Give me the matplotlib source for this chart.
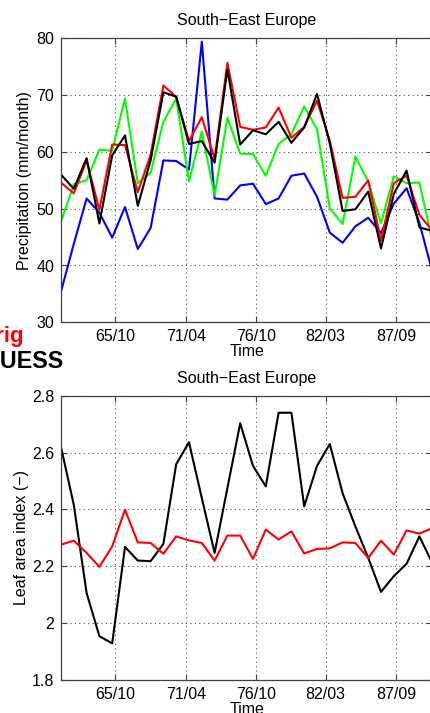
import numpy as np
import matplotlib
matplotlib.use("Agg")
import matplotlib.pyplot as plt

plt.rcParams['font.family'] = ['Liberation Sans', 'DejaVu Sans']

years = np.arange(1961, 1991)
tick_labels = ["65/10", "71/04", "76/10", "82/03", "87/09"]
tick_pos = [1965.75, 1971.25, 1976.75, 1982 + 2/12, 1987 + 8/12]

precip_blue = [35.4, 43.8, 51.8, 49.3, 44.9, 50.3, 42.9, 46.6, 58.5, 58.4,
               56.9, 79.4, 51.8, 51.6, 54.1, 54.4, 50.8, 51.8, 55.8, 56.2,
               52.1, 45.8, 44.0, 46.9, 48.4, 45.7, 50.9, 53.6, 47.5, 39.0]
precip_green = [47.7, 54.3, 55.0, 60.4, 60.2, 69.4, 54.5, 56.3, 65.3, 69.4,
                54.8, 63.6, 52.3, 66.0, 59.7, 59.6, 55.8, 61.4, 63.1, 68.0,
                64.0, 50.1, 47.3, 59.2, 54.8, 47.4, 55.7, 54.5, 54.6, 44.5]
precip_red = [54.6, 52.7, 58.5, 49.8, 61.3, 61.2, 52.9, 59.5, 71.7, 69.7,
              61.9, 66.1, 58.8, 75.7, 64.4, 63.9, 64.3, 67.8, 62.5, 64.4,
              69.0, 62.0, 51.9, 52.1, 55.0, 44.4, 54.5, 55.8, 48.9, 46.2]
precip_black = [56.0, 53.5, 58.9, 47.4, 59.4, 62.9, 50.5, 58.5, 70.5, 69.7,
                61.4, 61.9, 58.1, 74.5, 61.3, 63.8, 63.1, 65.3, 61.6, 64.3,
                70.2, 61.5, 49.6, 49.9, 53.0, 43.0, 52.6, 56.7, 46.7, 46.1]

lai_black = [2.619, 2.416, 2.106, 1.954, 1.929, 2.268, 2.220, 2.218, 2.279, 2.559,
             2.636, 2.440, 2.247, 2.475, 2.703, 2.553, 2.481, 2.740, 2.740, 2.411,
             2.553, 2.630, 2.457, 2.340, 2.230, 2.110, 2.165, 2.209, 2.305, 2.212]
lai_red = [2.276, 2.290, 2.247, 2.198, 2.270, 2.399, 2.284, 2.282, 2.244, 2.305,
           2.291, 2.282, 2.220, 2.308, 2.308, 2.226, 2.329, 2.294, 2.323, 2.245,
           2.261, 2.263, 2.284, 2.282, 2.229, 2.290, 2.241, 2.326, 2.315, 2.334]

W, H = 431, 713
fig = plt.figure(figsize=(W/100, H/100), dpi=100)

x = years + 0.5
FS = 11.5
spine_col = '#404040'

def style(ax, ylim, yticks, yticklabels, ylabel, label_x):
    ax.set_xlim(1961.5, 1990.5)
    ax.set_ylim(*ylim)
    ax.set_yticks(yticks)
    ax.set_yticklabels(yticklabels)
    ax.set_xticks(tick_pos)
    ax.set_xticklabels(tick_labels)
    ax.grid(True, linestyle=(0, (1, 3)), color='#555555', linewidth=0.8)
    ax.tick_params(direction='in', length=4, labelsize=FS, top=True, right=True,
                   colors=spine_col, labelcolor='black', pad=5)
    for s in ax.spines.values():
        s.set_color(spine_col)
        s.set_linewidth(0.9)
    ax.set_title("South\u2212East Europe", fontsize=FS, pad=9.5)
    ax.set_xlabel("Time", fontsize=FS, labelpad=0)
    ax.set_ylabel(ylabel, fontsize=FS)
    ax.yaxis.set_label_coords(label_x, 0.5)

left = 61 / W
width = (29 * 12.8) / W

ax1 = fig.add_axes([left, 1 - 322.3 / H, width, 284 / H])
ax1.plot(x, precip_blue, color='#0000ff', lw=1.5)
ax1.plot(x, precip_green, color='#00ff00', lw=1.5)
ax1.plot(x, precip_red, color='#ff0000', lw=1.5)
ax1.plot(x, precip_black, color='black', lw=1.5)
style(ax1, (30, 80), [30, 40, 50, 60, 70, 80],
      ["30", "40", "50", "60", "70", "80"], "Precipitation (mm/month)", -0.078)

ax2 = fig.add_axes([left, 1 - 680 / H, width, 284.3 / H])
ax2.plot(x, lai_black, color='black', lw=1.5)
ax2.plot(x, lai_red, color='#ff0000', lw=1.5)
style(ax2, (1.8, 2.8), [1.8, 2.0, 2.2, 2.4, 2.6, 2.8],
      ["1.8", "2", "2.2", "2.4", "2.6", "2.8"], "Leaf area index (\u2212)", -0.085)

fig.text(24 / W, 1 - 342 / H, "Orig", color='#ff0000', fontsize=16,
         fontweight='bold', ha='right', va='baseline')
fig.text(63.5 / W, 1 - 368.3 / H, "LPJ\u2212GUESS", color='black', fontsize=16.8,
         fontweight='bold', ha='right', va='baseline')

fig.savefig("out.png", dpi=100)
